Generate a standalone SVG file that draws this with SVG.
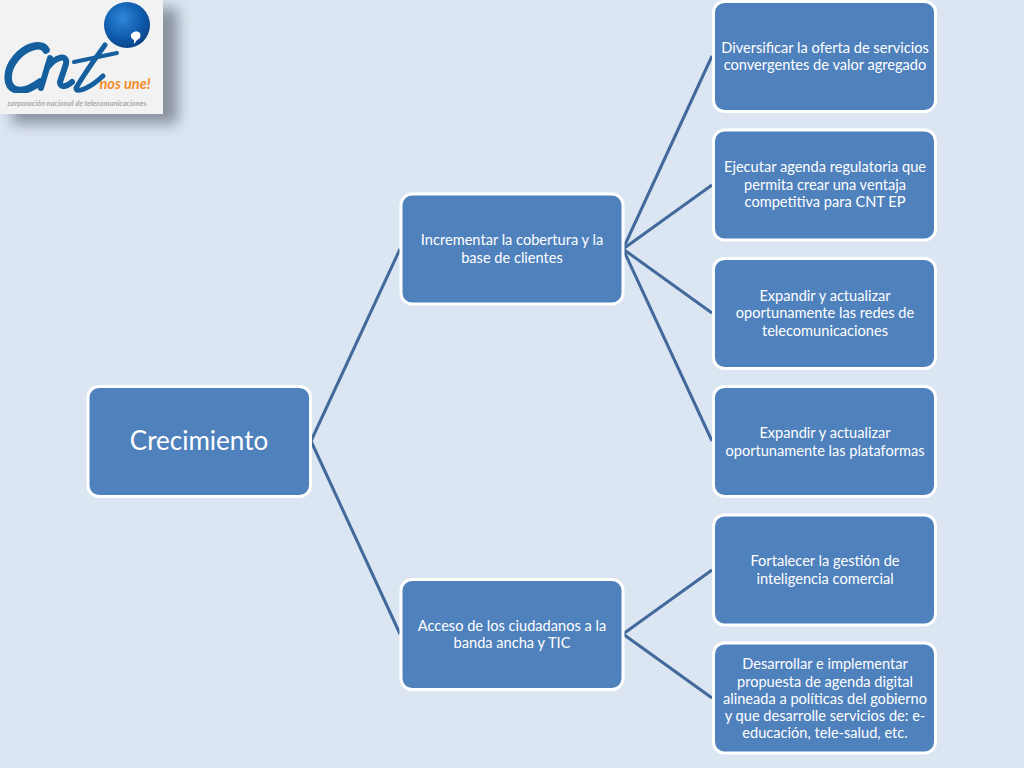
<svg xmlns="http://www.w3.org/2000/svg" width="1024" height="768" viewBox="0 0 1024 768">
<style>
.box{fill:#4f81bd;stroke:#fff;stroke-width:3}
.t{font-family:Lato,"Liberation Sans",sans-serif;font-size:14.6px;fill:#fff;text-anchor:middle}
.c{stroke:#41699b;stroke-width:3;fill:none}
</style>
<defs>
<filter id="b" x="-30%" y="-30%" width="160%" height="160%"><feGaussianBlur stdDeviation="7"/></filter>
<filter id="s" x="-5%" y="-5%" width="110%" height="110%"><feGaussianBlur stdDeviation="0.5"/></filter>
<radialGradient id="ball" cx="0.4" cy="0.35" r="0.7"><stop offset="0" stop-color="#2f86d8"/><stop offset="0.6" stop-color="#0f5cae"/><stop offset="1" stop-color="#0a4084"/></radialGradient>
</defs>
<rect width="1024" height="768" fill="#dce6f2"/>
<g id="logo">
<rect x="12" y="8" width="166" height="116" fill="#5f6674" opacity="0.65" filter="url(#b)"/>
<rect x="0" y="0" width="163" height="114" fill="#f2f2f2"/>
<circle cx="127" cy="25" r="23" fill="url(#ball)"/>
<path d="M131 34q5-5 9 -1q2 5-3 7l-3 4l0-4q-4-2-3-6z" fill="#fff"/>
<g filter="url(#s)" fill="none" stroke="#125f9f" stroke-linecap="round">
<path d="M46 50C42 42 26 46 16 58C6 70 5 86 16 90C24 92 32 88 40 82" stroke-width="7.500"/>
<path d="M50 58L41 88M47 68C56 56 68 54 66 64L60 82C60 88 66 87 72 82" stroke-width="6"/>
<path d="M105 45C94 60 82 78 76 88C76 94 90 88 103 76" stroke-width="5"/>
<path d="M74 62L117 53" stroke-width="4"/>
</g>
<text x="125" y="89" font-family="Lato,'Liberation Sans',sans-serif" font-size="14.500" font-weight="700" font-style="italic" fill="#f28c28" text-anchor="middle">nos une!</text>
<text x="77" y="106" font-family="Lato,'Liberation Sans',sans-serif" font-size="7.500" font-weight="700" font-style="italic" fill="#a9a9ad" text-anchor="middle">corporación nacional de telecomunicaciones</text>
</g>
<g id="connectors" class="c">
<path class="c" d="M311 441L400 249"/>
<path class="c" d="M311 441L400 634"/>
<path class="c" d="M623 249L712 56"/>
<path class="c" d="M623 249L712 185"/>
<path class="c" d="M623 249L712 313"/>
<path class="c" d="M623 249L712 441"/>
<path class="c" d="M623 634L712 570"/>
<path class="c" d="M623 634L712 698"/>
</g>
<g id="n1"><rect class="box" x="88" y="386.500" width="222.500" height="110" rx="11"/>
<text class="t" x="199" y="450" style="font-size:26px">Crecimiento</text></g>
<g id="n2"><rect class="box" x="401" y="194" width="222" height="110" rx="11"/>
<text class="t" x="512" y="245">Incrementar la cobertura y la</text><text class="t" x="512" y="262.500">base de clientes</text></g>
<g id="n3"><rect class="box" x="401" y="579.500" width="222" height="110" rx="11"/>
<text class="t" x="512" y="630.500">Acceso de los ciudadanos a la</text><text class="t" x="512" y="648">banda ancha y TIC</text></g>
<g id="n4"><rect class="box" x="713.500" y="1.500" width="222" height="110" rx="11"/>
<text class="t" x="825" y="52.500">Diversificar la oferta de servicios</text><text class="t" x="825" y="70">convergentes de valor agregado</text></g>
<g id="n5"><rect class="box" x="713.500" y="130" width="222" height="110" rx="11"/>
<text class="t" x="825" y="172">Ejecutar agenda regulatoria que</text><text class="t" x="825" y="189.500">permita crear una ventaja</text><text class="t" x="825" y="207">competitiva para CNT EP</text></g>
<g id="n6"><rect class="box" x="713.500" y="258.500" width="222" height="110" rx="11"/>
<text class="t" x="825" y="300.500">Expandir y actualizar</text><text class="t" x="825" y="318">oportunamente las redes de</text><text class="t" x="825" y="335.500">telecomunicaciones</text></g>
<g id="n7"><rect class="box" x="713.500" y="386.500" width="222" height="110" rx="11"/>
<text class="t" x="825" y="438">Expandir y actualizar</text><text class="t" x="825" y="455.500">oportunamente las plataformas</text></g>
<g id="n8"><rect class="box" x="713.500" y="515" width="222" height="110" rx="11"/>
<text class="t" x="825" y="566">Fortalecer la gestión de</text><text class="t" x="825" y="583.500">inteligencia comercial</text></g>
<g id="n9"><rect class="box" x="713.500" y="643" width="222" height="110" rx="11"/>
<text class="t" x="825" y="669">Desarrollar e implementar</text><text class="t" x="825" y="686.500">propuesta de agenda digital</text><text class="t" x="825" y="703.500">alineada a políticas del gobierno</text><text class="t" x="825" y="721">y que desarrolle servicios de: e-</text><text class="t" x="825" y="738">educación, tele-salud, etc.</text></g>
</svg>
